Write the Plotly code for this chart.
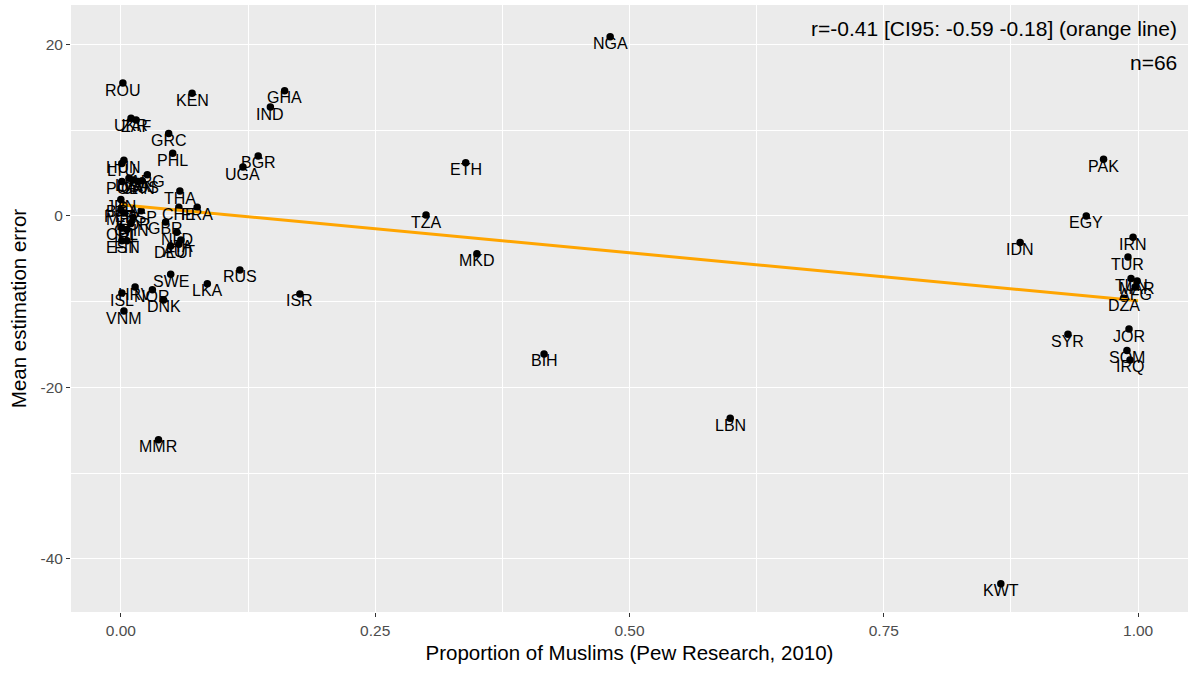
import plotly.graph_objects as go

countries = ["ROU","KEN","GHA","IND","UKR","ZAF","GRC","PHL","BGR","UGA",
             "THA","SWE","DNK","NOR","HRV","ISL","VNM","MMR","ISR","RUS","LKA",
             "NGA","ETH","TZA","MKD","BIH","LBN","KWT","IDN","EGY","PAK","IRN",
             "TUR","TUN","MAR","AFG","DZA","JOR","SYR","SOM","IRQ",
             "HUN","LTU","LVA","ARG","AUS","CAN","USA","POL","JPN","BRA","PER",
             "MEX","KOR","ESP","CHE","FRA","CHL","IRL","CHN","GBR","NLD","ITA",
             "EST","FIN","DEU","AUT"]
muslim_share = [0.002,0.070,0.161,0.147,0.010,0.015,0.047,0.051,0.135,0.120,
                0.058,0.049,0.042,0.031,0.014,0.001,0.003,0.037,0.176,0.117,0.085,
                0.481,0.339,0.300,0.350,0.416,0.599,0.865,0.884,0.949,0.966,0.995,
                0.990,0.993,0.999,0.997,0.986,0.991,0.931,0.989,0.992,
                0.003,0.001,0.008,0.026,0.021,0.017,0.012,0.001,0.000,0.002,0.000,
                0.003,0.012,0.020,0.057,0.075,0.001,0.006,0.010,0.044,0.055,0.059,
                0.001,0.006,0.049,0.057]
mean_error = [15.5,14.3,14.6,12.7,11.4,11.2,9.6,7.3,7.0,5.7,
              2.9,-6.8,-9.8,-8.6,-8.3,-9.0,-11.1,-26.1,-9.1,-6.3,-7.9,
              20.9,6.2,0.1,-4.4,-16.1,-23.6,-42.9,-3.1,0.0,6.6,-2.5,
              -4.8,-7.3,-7.6,-8.3,-9.6,-13.2,-13.8,-15.7,-16.8,
              6.5,6.1,4.4,4.8,4.1,4.0,4.2,4.0,1.9,1.3,0.7,
              0.35,-0.2,0.6,1.0,1.0,-1.4,-1.6,-0.9,-0.7,-1.9,-2.8,
              -2.9,-2.9,-3.5,-3.3]

trend_x = [0.0, 1.0]
trend_y = [1.3, -9.9]

stat_lines = ["r=-0.41 [CI95: -0.59 -0.18] (orange line)", "n=66"]

FONT = "Liberation Sans, Arial, sans-serif"

fig = go.Figure()
fig.add_trace(go.Scatter(x=muslim_share, y=mean_error, mode="markers",
                         marker=dict(color="black", size=7.5), showlegend=False,
                         hoverinfo="text", text=countries))
fig.add_trace(go.Scatter(x=trend_x, y=trend_y, mode="lines",
                         line=dict(color="#FFA500", width=3), showlegend=False))

for c, xv, yv in zip(countries, muslim_share, mean_error):
    fig.add_annotation(x=xv, y=yv, text=c, showarrow=False, yshift=-7,
                       font=dict(family=FONT, size=16, color="black"))

fig.add_annotation(xref="paper", yref="paper", x=0.9915, y=0.9605, xanchor="right",
                   yanchor="middle", text=stat_lines[0], showarrow=False,
                   font=dict(family=FONT, size=21, color="black"))
fig.add_annotation(xref="paper", yref="paper", x=0.9915, y=0.906, xanchor="right",
                   yanchor="middle", text=stat_lines[1], showarrow=False,
                   font=dict(family=FONT, size=21, color="black"))

axis_common = dict(showline=False, zeroline=False, gridcolor="white", gridwidth=1.4,
                   ticks="outside", ticklen=4, tickcolor="#333333", tickwidth=1,
                   automargin=False,
                   tickfont=dict(family=FONT, size=15.5, color="#4D4D4D"))

fig.update_layout(
    width=1200, height=673,
    margin=dict(l=71, r=12, t=5, b=61),
    paper_bgcolor="white", plot_bgcolor="#EBEBEB",
    font=dict(family=FONT),
    xaxis=dict(range=[-0.049, 1.049], tickmode="array",
               tickvals=[0, 0.25, 0.5, 0.75, 1.0],
               ticktext=["0.00", "0.25", "0.50", "0.75", "1.00"],
               minor=dict(tickmode="array", tickvals=[0.125, 0.375, 0.625, 0.875],
                          showgrid=True, gridcolor="white", gridwidth=0.6, ticks=""),
               title=dict(text="Proportion of Muslims (Pew Research, 2010)",
                          font=dict(family=FONT, size=20.5, color="black"), standoff=8),
               **axis_common),
    yaxis=dict(range=[-46.2, 24.6], tickmode="array",
               tickvals=[-40, -20, 0, 20], ticktext=["-40", "-20", "0", "20"],
               minor=dict(tickmode="array", tickvals=[-30, -10, 10],
                          showgrid=True, gridcolor="white", gridwidth=0.6, ticks=""),
               title=dict(text="Mean estimation error",
                          font=dict(family=FONT, size=20.5, color="black"), standoff=8),
               **axis_common),
)

fig.write_html("out.html", config={"displayModeBar": False},
               post_script="document.body.style.margin='0';")
